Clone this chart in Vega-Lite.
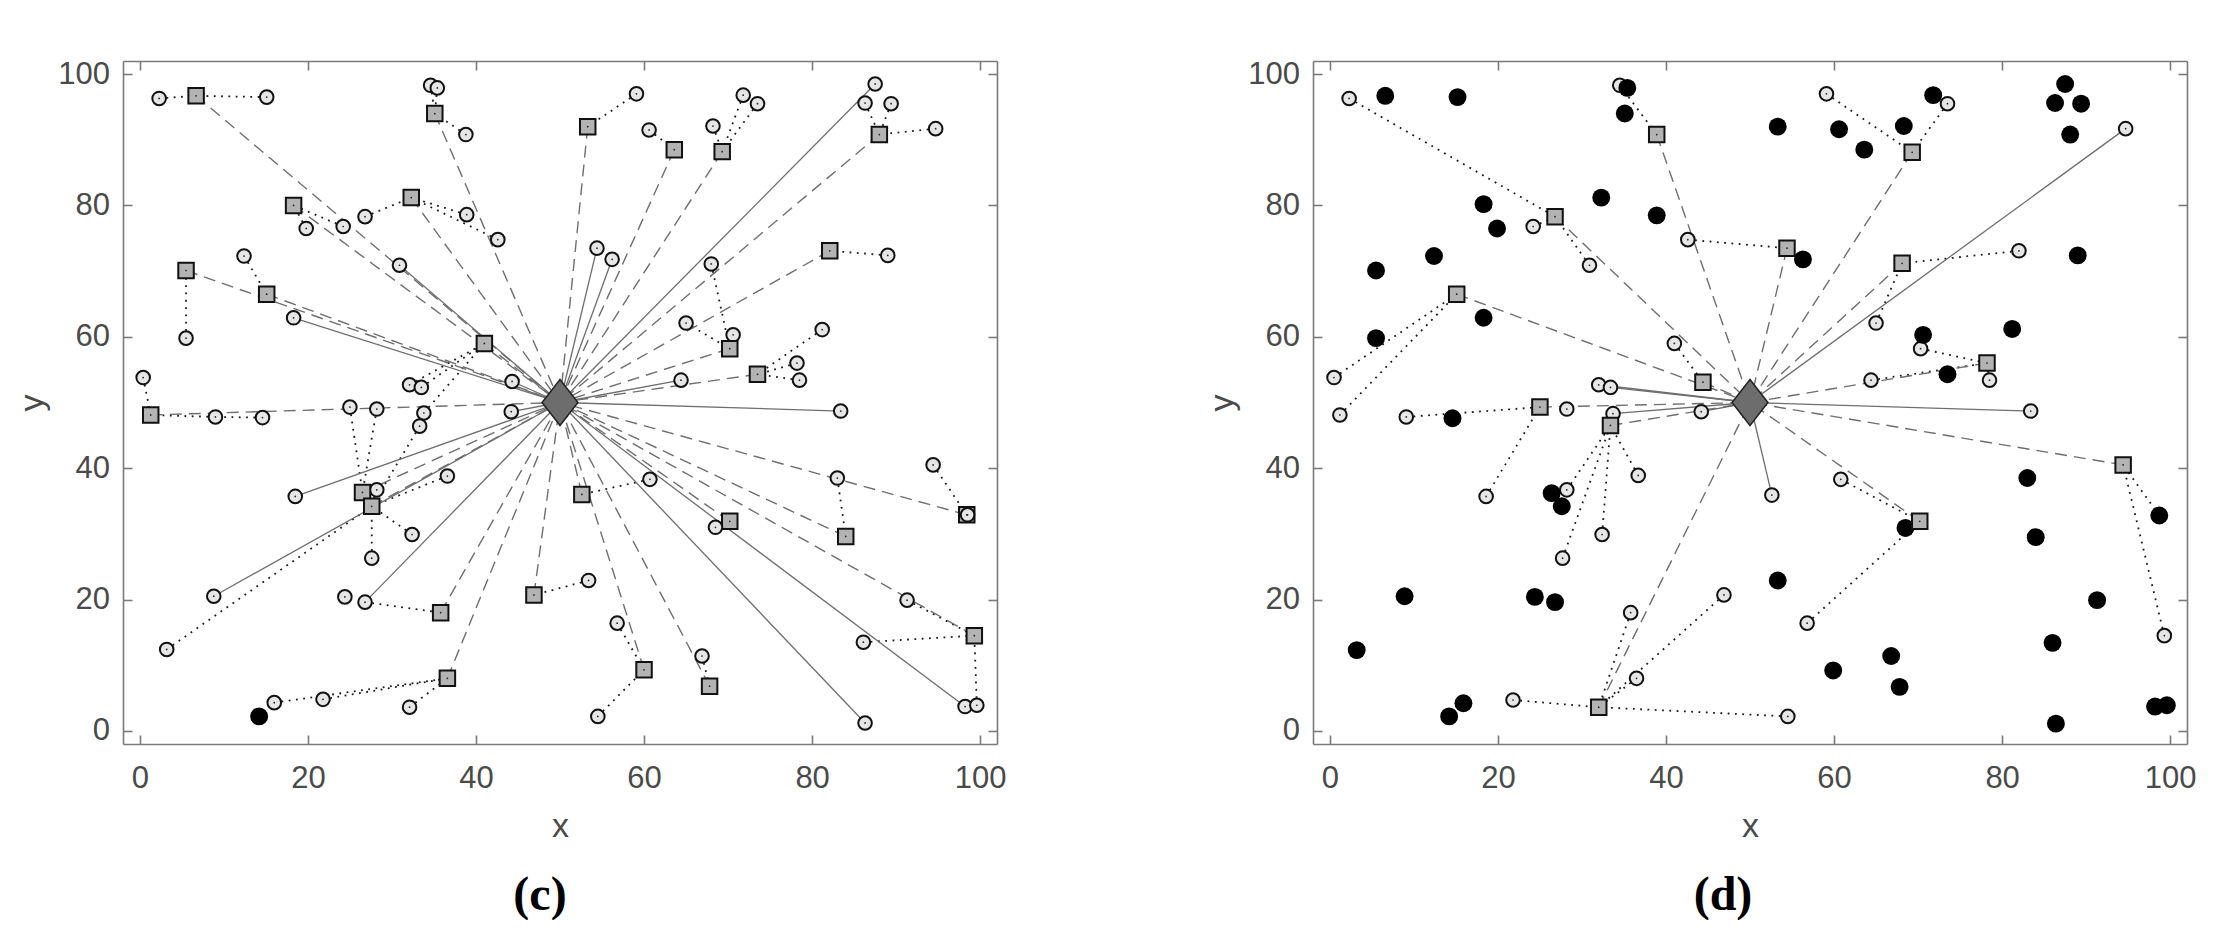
{
"$schema":"https://vega.github.io/schema/vega-lite/v6.json",
"background":"white",
"padding":{"left":15,"top":58,"right":0,"bottom":0},
"spacing":198,
"datasets":{
"nodes_c":[
{"x":2.3,"y":96.3,"t":"o"},{"x":15.1,"y":96.5,"t":"o"},{"x":34.6,"y":98.3,"t":"o"},{"x":35.4,"y":97.9,"t":"o"},{"x":38.8,"y":90.8,"t":"o"},{"x":19.8,"y":76.5,"t":"o"},{"x":24.2,"y":76.8,"t":"o"},{"x":26.8,"y":78.3,"t":"o"},{"x":38.9,"y":78.6,"t":"o"},{"x":42.6,"y":74.8,"t":"o"},{"x":30.9,"y":70.9,"t":"o"},{"x":5.5,"y":59.8,"t":"o"},{"x":12.4,"y":72.3,"t":"o"},{"x":18.3,"y":62.9,"t":"o"},{"x":0.4,"y":53.8,"t":"o"},{"x":32.1,"y":52.7,"t":"o"},{"x":33.5,"y":52.3,"t":"o"},{"x":44.3,"y":53.2,"t":"o"},
{"x":59.1,"y":97.0,"t":"o"},{"x":60.6,"y":91.5,"t":"o"},{"x":71.8,"y":96.8,"t":"o"},{"x":73.5,"y":95.5,"t":"o"},{"x":68.2,"y":92.1,"t":"o"},{"x":87.5,"y":98.5,"t":"o"},{"x":86.3,"y":95.6,"t":"o"},{"x":89.4,"y":95.5,"t":"o"},{"x":94.7,"y":91.7,"t":"o"},{"x":54.4,"y":73.5,"t":"o"},{"x":56.2,"y":71.8,"t":"o"},{"x":68.0,"y":71.1,"t":"o"},{"x":89.0,"y":72.4,"t":"o"},{"x":65.0,"y":62.1,"t":"o"},{"x":70.6,"y":60.3,"t":"o"},{"x":81.2,"y":61.1,"t":"o"},{"x":78.2,"y":56.0,"t":"o"},{"x":78.5,"y":53.4,"t":"o"},{"x":64.4,"y":53.4,"t":"o"},
{"x":9.0,"y":47.8,"t":"o"},{"x":14.6,"y":47.7,"t":"o"},{"x":25.0,"y":49.3,"t":"o"},{"x":28.2,"y":49.0,"t":"o"},{"x":33.8,"y":48.4,"t":"o"},{"x":33.3,"y":46.4,"t":"o"},{"x":44.2,"y":48.6,"t":"o"},{"x":36.6,"y":38.8,"t":"o"},{"x":18.5,"y":35.7,"t":"o"},{"x":28.2,"y":36.7,"t":"o"},{"x":32.4,"y":29.9,"t":"o"},{"x":27.6,"y":26.3,"t":"o"},{"x":8.8,"y":20.5,"t":"o"},{"x":3.2,"y":12.4,"t":"o"},{"x":24.4,"y":20.4,"t":"o"},{"x":26.8,"y":19.6,"t":"o"},{"x":21.8,"y":4.8,"t":"o"},{"x":16.0,"y":4.3,"t":"o"},{"x":32.1,"y":3.6,"t":"o"},
{"x":83.4,"y":48.7,"t":"o"},{"x":94.4,"y":40.5,"t":"o"},{"x":83.0,"y":38.5,"t":"o"},{"x":60.7,"y":38.3,"t":"o"},{"x":91.3,"y":19.9,"t":"o"},{"x":86.1,"y":13.5,"t":"o"},{"x":98.2,"y":3.7,"t":"o"},{"x":99.6,"y":3.9,"t":"o"},{"x":86.3,"y":1.2,"t":"o"},{"x":53.4,"y":22.9,"t":"o"},{"x":56.8,"y":16.4,"t":"o"},{"x":54.5,"y":2.2,"t":"o"},{"x":66.9,"y":11.4,"t":"o"},
{"x":14.2,"y":2.2,"t":"d"},
{"x":6.7,"y":96.7,"t":"s"},{"x":35.1,"y":94.0,"t":"s"},{"x":18.3,"y":80.0,"t":"s"},{"x":32.3,"y":81.2,"t":"s"},{"x":5.5,"y":70.1,"t":"s"},{"x":15.1,"y":66.5,"t":"s"},{"x":41.0,"y":59.0,"t":"s"},{"x":53.3,"y":92.0,"t":"s"},{"x":63.6,"y":88.5,"t":"s"},{"x":69.3,"y":88.2,"t":"s"},{"x":88.0,"y":90.8,"t":"s"},{"x":82.1,"y":73.1,"t":"s"},{"x":70.2,"y":58.2,"t":"s"},{"x":73.5,"y":54.3,"t":"s"},{"x":1.3,"y":48.1,"t":"s"},{"x":26.5,"y":36.3,"t":"s"},{"x":27.6,"y":34.2,"t":"s"},{"x":35.8,"y":18.0,"t":"s"},{"x":46.9,"y":20.7,"t":"s"},{"x":36.6,"y":8.0,"t":"s"},{"x":98.4,"y":32.9,"t":"s"},{"x":84.0,"y":29.6,"t":"s"},{"x":52.6,"y":36.0,"t":"s"},{"x":70.2,"y":31.9,"t":"s"},{"x":99.3,"y":14.5,"t":"s"},{"x":60.0,"y":9.3,"t":"s"},{"x":67.8,"y":6.8,"t":"s"},
{"x":98.5,"y":32.9,"t":"o2"},{"x":68.5,"y":31.0,"t":"o2"},
{"x":50,"y":50,"t":"k"}
],
"links_c":[
{"x":2.3,"y":96.3,"x2":6.7,"y2":96.7,"s":"dot"},{"x":15.1,"y":96.5,"x2":6.7,"y2":96.7,"s":"dot"},
{"x":34.6,"y":98.3,"x2":35.1,"y2":94.0,"s":"dot"},{"x":35.4,"y":97.9,"x2":35.1,"y2":94.0,"s":"dot"},{"x":38.8,"y":90.8,"x2":35.1,"y2":94.0,"s":"dot"},
{"x":24.2,"y":76.8,"x2":18.3,"y2":80.0,"s":"dot"},{"x":19.8,"y":76.5,"x2":18.3,"y2":80.0,"s":"dot"},
{"x":26.8,"y":78.3,"x2":32.3,"y2":81.2,"s":"dot"},{"x":38.9,"y":78.6,"x2":32.3,"y2":81.2,"s":"dot"},{"x":42.6,"y":74.8,"x2":32.3,"y2":81.2,"s":"dot"},
{"x":5.5,"y":59.8,"x2":5.5,"y2":70.1,"s":"dot"},{"x":12.4,"y":72.3,"x2":15.1,"y2":66.5,"s":"dot"},
{"x":32.1,"y":52.7,"x2":41.0,"y2":59.0,"s":"dot"},{"x":33.5,"y":52.3,"x2":41.0,"y2":59.0,"s":"dot"},{"x":33.8,"y":48.4,"x2":41.0,"y2":59.0,"s":"dot"},
{"x":59.1,"y":97.0,"x2":53.3,"y2":92.0,"s":"dot"},{"x":60.6,"y":91.5,"x2":63.6,"y2":88.5,"s":"dot"},
{"x":71.8,"y":96.8,"x2":69.3,"y2":88.2,"s":"dot"},{"x":73.5,"y":95.5,"x2":69.3,"y2":88.2,"s":"dot"},{"x":68.2,"y":92.1,"x2":69.3,"y2":88.2,"s":"dot"},
{"x":86.3,"y":95.6,"x2":88.0,"y2":90.8,"s":"dot"},{"x":89.4,"y":95.5,"x2":88.0,"y2":90.8,"s":"dot"},{"x":94.7,"y":91.7,"x2":88.0,"y2":90.8,"s":"dot"},
{"x":89.0,"y":72.4,"x2":82.1,"y2":73.1,"s":"dot"},
{"x":68.0,"y":71.1,"x2":70.2,"y2":58.2,"s":"dot"},{"x":65.0,"y":62.1,"x2":70.2,"y2":58.2,"s":"dot"},{"x":70.6,"y":60.3,"x2":70.2,"y2":58.2,"s":"dot"},
{"x":81.2,"y":61.1,"x2":73.5,"y2":54.3,"s":"dot"},{"x":78.2,"y":56.0,"x2":73.5,"y2":54.3,"s":"dot"},{"x":78.5,"y":53.4,"x2":73.5,"y2":54.3,"s":"dot"},
{"x":0.4,"y":53.8,"x2":1.3,"y2":48.1,"s":"dot"},{"x":9.0,"y":47.8,"x2":1.3,"y2":48.1,"s":"dot"},{"x":14.6,"y":47.7,"x2":9.0,"y2":47.8,"s":"dot"},
{"x":25.0,"y":49.3,"x2":26.5,"y2":36.3,"s":"dot"},{"x":28.2,"y":49.0,"x2":26.5,"y2":36.3,"s":"dot"},
{"x":33.3,"y":46.4,"x2":27.6,"y2":34.2,"s":"dot"},{"x":36.6,"y":38.8,"x2":27.6,"y2":34.2,"s":"dot"},{"x":32.4,"y":29.9,"x2":27.6,"y2":34.2,"s":"dot"},{"x":27.6,"y":26.3,"x2":27.6,"y2":34.2,"s":"dot"},{"x":3.2,"y":12.4,"x2":27.6,"y2":34.2,"s":"dot"},{"x":28.2,"y":36.7,"x2":27.6,"y2":34.2,"s":"dot"},
{"x":26.8,"y":19.6,"x2":35.8,"y2":18.0,"s":"dot"},{"x":53.4,"y":22.9,"x2":46.9,"y2":20.7,"s":"dot"},
{"x":21.8,"y":4.8,"x2":36.6,"y2":8.0,"s":"dot"},{"x":16.0,"y":4.3,"x2":36.6,"y2":8.0,"s":"dot"},{"x":32.1,"y":3.6,"x2":36.6,"y2":8.0,"s":"dot"},
{"x":94.4,"y":40.5,"x2":98.4,"y2":32.9,"s":"dot"},{"x":83.0,"y":38.5,"x2":84.0,"y2":29.6,"s":"dot"},{"x":60.7,"y":38.3,"x2":52.6,"y2":36.0,"s":"dot"},
{"x":91.3,"y":19.9,"x2":99.3,"y2":14.5,"s":"dot"},{"x":86.1,"y":13.5,"x2":99.3,"y2":14.5,"s":"dot"},{"x":99.6,"y":3.9,"x2":99.3,"y2":14.5,"s":"dot"},
{"x":56.8,"y":16.4,"x2":60.0,"y2":9.3,"s":"dot"},{"x":54.5,"y":2.2,"x2":60.0,"y2":9.3,"s":"dot"},{"x":66.9,"y":11.4,"x2":67.8,"y2":6.8,"s":"dot"},
{"x":6.7,"y":96.7,"x2":50,"y2":50,"s":"dash"},{"x":35.1,"y":94.0,"x2":50,"y2":50,"s":"dash"},{"x":18.3,"y":80.0,"x2":50,"y2":50,"s":"dash"},{"x":32.3,"y":81.2,"x2":50,"y2":50,"s":"dash"},{"x":5.5,"y":70.1,"x2":50,"y2":50,"s":"dash"},{"x":15.1,"y":66.5,"x2":50,"y2":50,"s":"dash"},{"x":41.0,"y":59.0,"x2":50,"y2":50,"s":"dash"},{"x":53.3,"y":92.0,"x2":50,"y2":50,"s":"dash"},{"x":63.6,"y":88.5,"x2":50,"y2":50,"s":"dash"},{"x":69.3,"y":88.2,"x2":50,"y2":50,"s":"dash"},{"x":88.0,"y":90.8,"x2":50,"y2":50,"s":"dash"},{"x":82.1,"y":73.1,"x2":50,"y2":50,"s":"dash"},{"x":70.2,"y":58.2,"x2":50,"y2":50,"s":"dash"},{"x":73.5,"y":54.3,"x2":50,"y2":50,"s":"dash"},{"x":1.3,"y":48.1,"x2":50,"y2":50,"s":"dash"},{"x":26.5,"y":36.3,"x2":50,"y2":50,"s":"dash"},{"x":27.6,"y":34.2,"x2":50,"y2":50,"s":"dash"},{"x":35.8,"y":18.0,"x2":50,"y2":50,"s":"dash"},{"x":46.9,"y":20.7,"x2":50,"y2":50,"s":"dash"},{"x":36.6,"y":8.0,"x2":50,"y2":50,"s":"dash"},{"x":98.4,"y":32.9,"x2":50,"y2":50,"s":"dash"},{"x":84.0,"y":29.6,"x2":50,"y2":50,"s":"dash"},{"x":52.6,"y":36.0,"x2":50,"y2":50,"s":"dash"},{"x":70.2,"y":31.9,"x2":50,"y2":50,"s":"dash"},{"x":99.3,"y":14.5,"x2":50,"y2":50,"s":"dash"},{"x":60.0,"y":9.3,"x2":50,"y2":50,"s":"dash"},{"x":67.8,"y":6.8,"x2":50,"y2":50,"s":"dash"},
{"x":30.9,"y":70.9,"x2":50,"y2":50,"s":"solid"},{"x":18.3,"y":62.9,"x2":50,"y2":50,"s":"solid"},{"x":44.3,"y":53.2,"x2":50,"y2":50,"s":"solid"},{"x":87.5,"y":98.5,"x2":50,"y2":50,"s":"solid"},{"x":54.4,"y":73.5,"x2":50,"y2":50,"s":"solid"},{"x":56.2,"y":71.8,"x2":50,"y2":50,"s":"solid"},{"x":64.4,"y":53.4,"x2":50,"y2":50,"s":"solid"},{"x":44.2,"y":48.6,"x2":50,"y2":50,"s":"solid"},{"x":18.5,"y":35.7,"x2":50,"y2":50,"s":"solid"},{"x":8.8,"y":20.5,"x2":50,"y2":50,"s":"solid"},{"x":26.8,"y":19.6,"x2":50,"y2":50,"s":"solid"},{"x":83.4,"y":48.7,"x2":50,"y2":50,"s":"solid"},{"x":86.3,"y":1.2,"x2":50,"y2":50,"s":"solid"},{"x":98.2,"y":3.7,"x2":50,"y2":50,"s":"solid"}
],
"nodes_d":[
{"x":2.3,"y":96.3,"t":"o"},{"x":24.2,"y":76.8,"t":"o"},{"x":30.9,"y":70.9,"t":"o"},{"x":34.5,"y":98.3,"t":"o"},{"x":42.6,"y":74.8,"t":"o"},{"x":0.5,"y":53.8,"t":"o"},{"x":1.2,"y":48.1,"t":"o"},{"x":41.0,"y":59.0,"t":"o"},{"x":32.0,"y":52.7,"t":"o"},{"x":33.4,"y":52.3,"t":"o"},{"x":59.1,"y":97.0,"t":"o"},{"x":73.5,"y":95.5,"t":"o"},{"x":94.7,"y":91.7,"t":"o"},{"x":82.0,"y":73.1,"t":"o"},{"x":65.0,"y":62.1,"t":"o"},{"x":70.3,"y":58.2,"t":"o"},{"x":78.5,"y":53.4,"t":"o"},{"x":64.4,"y":53.4,"t":"o"},{"x":9.1,"y":47.8,"t":"o"},{"x":28.2,"y":49.0,"t":"o"},{"x":33.7,"y":48.3,"t":"o"},{"x":44.2,"y":48.6,"t":"o"},{"x":18.6,"y":35.7,"t":"o"},{"x":36.7,"y":38.9,"t":"o"},{"x":28.2,"y":36.7,"t":"o"},{"x":32.4,"y":29.9,"t":"o"},{"x":27.7,"y":26.3,"t":"o"},{"x":35.8,"y":18.0,"t":"o"},{"x":46.9,"y":20.7,"t":"o"},{"x":36.5,"y":8.0,"t":"o"},{"x":21.8,"y":4.7,"t":"o"},{"x":54.5,"y":2.2,"t":"o"},{"x":83.4,"y":48.7,"t":"o"},{"x":60.8,"y":38.3,"t":"o"},{"x":56.8,"y":16.4,"t":"o"},{"x":52.6,"y":35.9,"t":"o"},{"x":99.3,"y":14.5,"t":"o"},
{"x":6.6,"y":96.7,"t":"d"},{"x":15.2,"y":96.5,"t":"d"},{"x":35.4,"y":97.9,"t":"d"},{"x":35.1,"y":94.0,"t":"d"},{"x":18.3,"y":80.2,"t":"d"},{"x":19.9,"y":76.5,"t":"d"},{"x":32.3,"y":81.2,"t":"d"},{"x":38.9,"y":78.5,"t":"d"},{"x":12.4,"y":72.3,"t":"d"},{"x":5.5,"y":70.1,"t":"d"},{"x":18.3,"y":62.9,"t":"d"},{"x":5.5,"y":59.8,"t":"d"},{"x":53.3,"y":92.0,"t":"d"},{"x":60.6,"y":91.6,"t":"d"},{"x":63.6,"y":88.5,"t":"d"},{"x":68.3,"y":92.1,"t":"d"},{"x":71.8,"y":96.8,"t":"d"},{"x":87.5,"y":98.5,"t":"d"},{"x":86.3,"y":95.6,"t":"d"},{"x":89.4,"y":95.5,"t":"d"},{"x":88.1,"y":90.8,"t":"d"},{"x":56.3,"y":71.8,"t":"d"},{"x":89.0,"y":72.4,"t":"d"},{"x":70.6,"y":60.3,"t":"d"},{"x":81.2,"y":61.2,"t":"d"},{"x":73.5,"y":54.3,"t":"d"},{"x":14.6,"y":47.6,"t":"d"},{"x":26.4,"y":36.2,"t":"d"},{"x":27.6,"y":34.2,"t":"d"},{"x":8.9,"y":20.5,"t":"d"},{"x":24.4,"y":20.4,"t":"d"},{"x":26.8,"y":19.6,"t":"d"},{"x":3.2,"y":12.3,"t":"d"},{"x":15.9,"y":4.2,"t":"d"},{"x":14.2,"y":2.2,"t":"d"},{"x":68.5,"y":30.9,"t":"d"},{"x":83.0,"y":38.5,"t":"d"},{"x":84.0,"y":29.5,"t":"d"},{"x":98.7,"y":32.8,"t":"d"},{"x":53.3,"y":22.9,"t":"d"},{"x":91.3,"y":19.9,"t":"d"},{"x":86.0,"y":13.4,"t":"d"},{"x":66.8,"y":11.4,"t":"d"},{"x":59.9,"y":9.2,"t":"d"},{"x":67.8,"y":6.7,"t":"d"},{"x":98.2,"y":3.7,"t":"d"},{"x":99.6,"y":3.9,"t":"d"},{"x":86.4,"y":1.1,"t":"d"},
{"x":38.9,"y":90.8,"t":"s"},{"x":26.8,"y":78.3,"t":"s"},{"x":15.1,"y":66.5,"t":"s"},{"x":44.4,"y":53.1,"t":"s"},{"x":69.3,"y":88.1,"t":"s"},{"x":54.4,"y":73.5,"t":"s"},{"x":68.1,"y":71.2,"t":"s"},{"x":78.2,"y":56.0,"t":"s"},{"x":25.0,"y":49.3,"t":"s"},{"x":33.4,"y":46.5,"t":"s"},{"x":32.0,"y":3.6,"t":"s"},{"x":70.2,"y":31.9,"t":"s"},{"x":94.4,"y":40.5,"t":"s"},
{"x":50,"y":50,"t":"k"}
],
"links_d":[
{"x":2.3,"y":96.3,"x2":26.8,"y2":78.3,"s":"dot"},{"x":24.2,"y":76.8,"x2":26.8,"y2":78.3,"s":"dot"},{"x":30.9,"y":70.9,"x2":26.8,"y2":78.3,"s":"dot"},
{"x":34.5,"y":98.3,"x2":38.9,"y2":90.8,"s":"dot"},{"x":42.6,"y":74.8,"x2":54.4,"y2":73.5,"s":"dot"},
{"x":0.5,"y":53.8,"x2":15.1,"y2":66.5,"s":"dot"},{"x":1.2,"y":48.1,"x2":15.1,"y2":66.5,"s":"dot"},
{"x":41.0,"y":59.0,"x2":44.4,"y2":53.1,"s":"dot"},
{"x":59.1,"y":97.0,"x2":69.3,"y2":88.1,"s":"dot"},{"x":73.5,"y":95.5,"x2":69.3,"y2":88.1,"s":"dot"},
{"x":82.0,"y":73.1,"x2":68.1,"y2":71.2,"s":"dot"},{"x":65.0,"y":62.1,"x2":68.1,"y2":71.2,"s":"dot"},
{"x":70.3,"y":58.2,"x2":78.2,"y2":56.0,"s":"dot"},{"x":78.5,"y":53.4,"x2":78.2,"y2":56.0,"s":"dot"},{"x":64.4,"y":53.4,"x2":78.2,"y2":56.0,"s":"dot"},
{"x":9.1,"y":47.8,"x2":25.0,"y2":49.3,"s":"dot"},{"x":18.6,"y":35.7,"x2":25.0,"y2":49.3,"s":"dot"},
{"x":36.7,"y":38.9,"x2":33.4,"y2":46.5,"s":"dot"},{"x":28.2,"y":36.7,"x2":33.4,"y2":46.5,"s":"dot"},{"x":32.4,"y":29.9,"x2":33.4,"y2":46.5,"s":"dot"},{"x":27.7,"y":26.3,"x2":33.4,"y2":46.5,"s":"dot"},
{"x":35.8,"y":18.0,"x2":32.0,"y2":3.6,"s":"dot"},{"x":46.9,"y":20.7,"x2":32.0,"y2":3.6,"s":"dot"},{"x":36.5,"y":8.0,"x2":32.0,"y2":3.6,"s":"dot"},{"x":21.8,"y":4.7,"x2":32.0,"y2":3.6,"s":"dot"},{"x":54.5,"y":2.2,"x2":32.0,"y2":3.6,"s":"dot"},
{"x":60.8,"y":38.3,"x2":70.2,"y2":31.9,"s":"dot"},{"x":56.8,"y":16.4,"x2":70.2,"y2":31.9,"s":"dot"},
{"x":99.3,"y":14.5,"x2":94.4,"y2":40.5,"s":"dot"},{"x":98.7,"y":32.8,"x2":94.4,"y2":40.5,"s":"dot"},
{"x":38.9,"y":90.8,"x2":50,"y2":50,"s":"dash"},{"x":26.8,"y":78.3,"x2":50,"y2":50,"s":"dash"},{"x":15.1,"y":66.5,"x2":50,"y2":50,"s":"dash"},{"x":44.4,"y":53.1,"x2":50,"y2":50,"s":"dash"},{"x":69.3,"y":88.1,"x2":50,"y2":50,"s":"dash"},{"x":54.4,"y":73.5,"x2":50,"y2":50,"s":"dash"},{"x":68.1,"y":71.2,"x2":50,"y2":50,"s":"dash"},{"x":78.2,"y":56.0,"x2":50,"y2":50,"s":"dash"},{"x":25.0,"y":49.3,"x2":50,"y2":50,"s":"dash"},{"x":33.4,"y":46.5,"x2":50,"y2":50,"s":"dash"},{"x":32.0,"y":3.6,"x2":50,"y2":50,"s":"dash"},{"x":70.2,"y":31.9,"x2":50,"y2":50,"s":"dash"},{"x":94.4,"y":40.5,"x2":50,"y2":50,"s":"dash"},
{"x":32.0,"y":52.7,"x2":50,"y2":50,"s":"solid"},{"x":33.4,"y":52.3,"x2":50,"y2":50,"s":"solid"},{"x":94.7,"y":91.7,"x2":50,"y2":50,"s":"solid"},{"x":33.7,"y":48.3,"x2":50,"y2":50,"s":"solid"},{"x":44.2,"y":48.6,"x2":50,"y2":50,"s":"solid"},{"x":83.4,"y":48.7,"x2":50,"y2":50,"s":"solid"},{"x":52.6,"y":35.9,"x2":50,"y2":50,"s":"solid"}
]
},
"hconcat":[
{
"width":874,"height":683,
"title":{"text":"(c)","orient":"bottom","anchor":"middle","frame":"group","offset":29,"dx":-20,"font":"Liberation Serif","fontSize":48,"fontWeight":"bold","color":"#000000"},
"resolve":{"axis":{"x":"independent","y":"independent"}},
"layer":[
{"data":{"name":"links_c"},"transform":[{"filter":"datum.s=='dot'"}],
"mark":{"type":"rule","color":"#1a1a1a","strokeWidth":1.8,"strokeDash":[1.8,5.5]},
"encoding":{
"x":{"field":"x","type":"quantitative","scale":{"domain":[-2,102],"nice":false,"zero":false},"axis":{"orient":"bottom","values":[0,20,40,60,80,100],"title":"x","labelFlush":false}},
"y":{"field":"y","type":"quantitative","scale":{"domain":[-2,102],"nice":false,"zero":false},"axis":{"orient":"left","values":[0,20,40,60,80,100],"title":"y","labelFlush":false}},
"x2":{"field":"x2"},"y2":{"field":"y2"}}},
{"data":{"name":"links_c"},"transform":[{"filter":"datum.s=='dash'"}],
"mark":{"type":"rule","color":"#6e6e6e","strokeWidth":1.4,"strokeDash":[12,7]},
"encoding":{"x":{"field":"x","type":"quantitative","axis":null},"y":{"field":"y","type":"quantitative","axis":null},"x2":{"field":"x2"},"y2":{"field":"y2"}}},
{"data":{"name":"links_c"},"transform":[{"filter":"datum.s=='solid'"}],
"mark":{"type":"rule","color":"#6e6e6e","strokeWidth":1.3},
"encoding":{"x":{"field":"x","type":"quantitative","axis":null},"y":{"field":"y","type":"quantitative","axis":null},"x2":{"field":"x2"},"y2":{"field":"y2"}}},
{"data":{"name":"nodes_c"},"transform":[{"filter":"datum.t=='o'"}],
"mark":{"type":"point","shape":"circle","filled":true,"fill":"#e6e6e6","stroke":"#111111","strokeWidth":2,"size":185,"opacity":1},
"encoding":{"x":{"field":"x","type":"quantitative","axis":null},"y":{"field":"y","type":"quantitative","axis":null}}},
{"data":{"name":"nodes_c"},"transform":[{"filter":"datum.t=='d'"}],
"mark":{"type":"point","shape":"circle","filled":true,"fill":"#000000","strokeWidth":0,"size":320,"opacity":1},
"encoding":{"x":{"field":"x","type":"quantitative","axis":null},"y":{"field":"y","type":"quantitative","axis":null}}},
{"data":{"name":"nodes_c"},"transform":[{"filter":"datum.t=='s'"}],
"mark":{"type":"point","shape":"square","filled":true,"fill":"#b3b3b3","stroke":"#111111","strokeWidth":2,"size":240,"opacity":1},
"encoding":{"x":{"field":"x","type":"quantitative","axis":null},"y":{"field":"y","type":"quantitative","axis":null}}},
{"data":{"name":"nodes_c"},"transform":[{"filter":"datum.t=='o2'"}],
"mark":{"type":"point","shape":"circle","filled":true,"fill":"#e6e6e6","stroke":"#111111","strokeWidth":2,"size":185,"opacity":1},
"encoding":{"x":{"field":"x","type":"quantitative","axis":null},"y":{"field":"y","type":"quantitative","axis":null}}},
{"data":{"name":"nodes_c"},"transform":[{"filter":"datum.t=='o' || datum.t=='o2' || datum.t=='s'"}],
"mark":{"type":"point","shape":"circle","filled":true,"fill":"#222222","strokeWidth":0,"size":3,"opacity":1},
"encoding":{"x":{"field":"x","type":"quantitative","axis":null},"y":{"field":"y","type":"quantitative","axis":null}}},
{"data":{"name":"nodes_c"},"transform":[{"filter":"datum.t=='k'"}],
"mark":{"type":"point","shape":"M0,-1L0.78,0L0,1L-0.78,0Z","filled":true,"fill":"#6d6d6d","stroke":"#222222","strokeWidth":1.5,"size":2116,"opacity":1},
"encoding":{
"x":{"field":"x","type":"quantitative","axis":{"orient":"top","values":[0,20,40,60,80,100],"labels":false,"title":null}},
"y":{"field":"y","type":"quantitative","axis":{"orient":"right","values":[0,20,40,60,80,100],"labels":false,"title":null}}}}
]
},
{
"width":874,"height":683,
"title":{"text":"(d)","orient":"bottom","anchor":"middle","frame":"group","offset":29,"dx":-27,"font":"Liberation Serif","fontSize":48,"fontWeight":"bold","color":"#000000"},
"resolve":{"axis":{"x":"independent","y":"independent"}},
"layer":[
{"data":{"name":"links_d"},"transform":[{"filter":"datum.s=='dot'"}],
"mark":{"type":"rule","color":"#1a1a1a","strokeWidth":1.8,"strokeDash":[1.8,5.5]},
"encoding":{
"x":{"field":"x","type":"quantitative","scale":{"domain":[-2,102],"nice":false,"zero":false},"axis":{"orient":"bottom","values":[0,20,40,60,80,100],"title":"x","labelFlush":false}},
"y":{"field":"y","type":"quantitative","scale":{"domain":[-2,102],"nice":false,"zero":false},"axis":{"orient":"left","values":[0,20,40,60,80,100],"title":"y","labelFlush":false}},
"x2":{"field":"x2"},"y2":{"field":"y2"}}},
{"data":{"name":"links_d"},"transform":[{"filter":"datum.s=='dash'"}],
"mark":{"type":"rule","color":"#6e6e6e","strokeWidth":1.4,"strokeDash":[12,7]},
"encoding":{"x":{"field":"x","type":"quantitative","axis":null},"y":{"field":"y","type":"quantitative","axis":null},"x2":{"field":"x2"},"y2":{"field":"y2"}}},
{"data":{"name":"links_d"},"transform":[{"filter":"datum.s=='solid'"}],
"mark":{"type":"rule","color":"#6e6e6e","strokeWidth":1.3},
"encoding":{"x":{"field":"x","type":"quantitative","axis":null},"y":{"field":"y","type":"quantitative","axis":null},"x2":{"field":"x2"},"y2":{"field":"y2"}}},
{"data":{"name":"nodes_d"},"transform":[{"filter":"datum.t=='o'"}],
"mark":{"type":"point","shape":"circle","filled":true,"fill":"#e6e6e6","stroke":"#111111","strokeWidth":2,"size":185,"opacity":1},
"encoding":{"x":{"field":"x","type":"quantitative","axis":null},"y":{"field":"y","type":"quantitative","axis":null}}},
{"data":{"name":"nodes_d"},"transform":[{"filter":"datum.t=='o'"}],
"mark":{"type":"point","shape":"circle","filled":true,"fill":"#222222","strokeWidth":0,"size":3,"opacity":1},
"encoding":{"x":{"field":"x","type":"quantitative","axis":null},"y":{"field":"y","type":"quantitative","axis":null}}},
{"data":{"name":"nodes_d"},"transform":[{"filter":"datum.t=='d'"}],
"mark":{"type":"point","shape":"circle","filled":true,"fill":"#000000","strokeWidth":0,"size":320,"opacity":1},
"encoding":{"x":{"field":"x","type":"quantitative","axis":null},"y":{"field":"y","type":"quantitative","axis":null}}},
{"data":{"name":"nodes_d"},"transform":[{"filter":"datum.t=='s'"}],
"mark":{"type":"point","shape":"square","filled":true,"fill":"#b3b3b3","stroke":"#111111","strokeWidth":2,"size":240,"opacity":1},
"encoding":{"x":{"field":"x","type":"quantitative","axis":null},"y":{"field":"y","type":"quantitative","axis":null}}},
{"data":{"name":"nodes_d"},"transform":[{"filter":"datum.t=='s'"}],
"mark":{"type":"point","shape":"circle","filled":true,"fill":"#222222","strokeWidth":0,"size":3,"opacity":1},
"encoding":{"x":{"field":"x","type":"quantitative","axis":null},"y":{"field":"y","type":"quantitative","axis":null}}},
{"data":{"name":"nodes_d"},"transform":[{"filter":"datum.t=='k'"}],
"mark":{"type":"point","shape":"M0,-1L0.78,0L0,1L-0.78,0Z","filled":true,"fill":"#6d6d6d","stroke":"#222222","strokeWidth":1.5,"size":2116,"opacity":1},
"encoding":{
"x":{"field":"x","type":"quantitative","axis":{"orient":"top","values":[0,20,40,60,80,100],"labels":false,"title":null}},
"y":{"field":"y","type":"quantitative","axis":{"orient":"right","values":[0,20,40,60,80,100],"labels":false,"title":null}}}}
]
}
],
"config":{
"view":{"stroke":null},
"axis":{"grid":false,"domainColor":"#7a7a7a","domainWidth":1.6,"tickColor":"#7a7a7a","tickWidth":1.6,"tickSize":-9,"labelFont":"Liberation Sans","labelFontSize":31,"labelColor":"#4a4a4a","titleFont":"Liberation Sans","titleFontSize":34,"titleColor":"#4a4a4a","titleFontWeight":"normal"},
"axisX":{"labelPadding":28,"titlePadding":16},
"axisY":{"labelPadding":22.5,"titlePadding":8}
}
}
